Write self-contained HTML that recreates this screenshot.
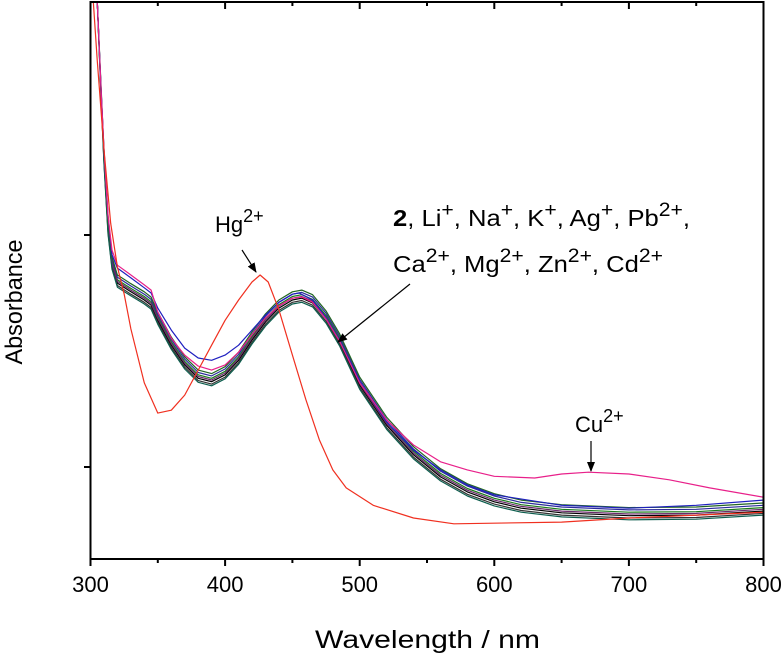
<!DOCTYPE html>
<html><head><meta charset="utf-8"><style>
body{margin:0;background:#fff;}
svg text{font-family:"Liberation Sans",sans-serif;}
</style></head><body>
<svg id="c" width="784" height="666" viewBox="0 0 784 666" xmlns="http://www.w3.org/2000/svg">
<defs><marker id="ah" markerWidth="10" markerHeight="8" refX="9" refY="4" orient="auto" markerUnits="userSpaceOnUse"><path d="M0,0 L10,4 L0,8 z" fill="#000"/></marker></defs>
<g id="plot"></g>
<rect x="90.5" y="2" width="673" height="557" fill="none" stroke="#000" stroke-width="2"/>
<g id="ticks"></g>
<text x="22" y="302" font-size="24" text-anchor="middle" textLength="125" lengthAdjust="spacingAndGlyphs" transform="rotate(-90 22 302)">Absorbance</text>
<text x="315" y="648" font-size="25" textLength="225" lengthAdjust="spacingAndGlyphs">Wavelength / nm</text>
<g>
<text x="215" y="232" font-size="22">Hg<tspan dy="-10" font-size="18">2+</tspan></text>
<line x1="242" y1="250" x2="256" y2="272" stroke="#000" stroke-width="1.2" marker-end="url(#ah)"/>
</g>
<g>
<text x="393" y="226" font-size="23" textLength="297" lengthAdjust="spacingAndGlyphs"><tspan font-weight="bold">2</tspan>, Li<tspan dy="-10" font-size="19">+</tspan><tspan dy="10">, Na</tspan><tspan dy="-10" font-size="19">+</tspan><tspan dy="10">, K</tspan><tspan dy="-10" font-size="19">+</tspan><tspan dy="10">, Ag</tspan><tspan dy="-10" font-size="19">+</tspan><tspan dy="10">, Pb</tspan><tspan dy="-10" font-size="19">2+</tspan><tspan dy="10">,</tspan></text>
<text x="393" y="272" font-size="23" textLength="270" lengthAdjust="spacingAndGlyphs">Ca<tspan dy="-10" font-size="19">2+</tspan><tspan dy="10">, Mg</tspan><tspan dy="-10" font-size="19">2+</tspan><tspan dy="10">, Zn</tspan><tspan dy="-10" font-size="19">2+</tspan><tspan dy="10">, Cd</tspan><tspan dy="-10" font-size="19">2+</tspan></text>
<line x1="410" y1="284" x2="338" y2="342" stroke="#000" stroke-width="1.2" marker-end="url(#ah)"/>
</g>
<g>
<text x="575" y="432" font-size="22">Cu<tspan dy="-10" font-size="18">2+</tspan></text>
<line x1="591" y1="441" x2="591" y2="471" stroke="#000" stroke-width="1.2" marker-end="url(#ah)"/>
</g>
</svg>
<script>
const xTicks=[300,400,500,600,700,800];
const xMinor=[350,450,550,650,750];
const yTicks=[0.2,0.6];
const lamMain=[305,308,310,313,316,320,330,340,345,350,360,370,380,390,400,410,420,430,440,450,457,465,475,485,500,520,540,560,580,600,620,650,700,750,800];
const absMain=[1.005,0.833,0.729,0.609,0.548,0.517,0.502,0.488,0.479,0.453,0.410,0.376,0.353,0.347,0.359,0.384,0.419,0.450,0.474,0.488,0.491,0.483,0.455,0.416,0.341,0.272,0.221,0.183,0.157,0.140,0.129,0.121,0.116,0.117,0.124];
const groupOffsets=[0,0.006,-0.004,0.010,0.003,-0.007,0.014];
const groupColors=["#000","#1a7a1a","#333","#2b2b9b","#6b2a6b","#0d5e4e","#226622"];
const lamHg=[302,305,310,315,320,325,330,340,350,360,370,380,390,400,410,420,426,432,440,450,460,470,480,490,510,540,570,650,700,800];
const absHg=[1.005,0.902,0.747,0.620,0.545,0.498,0.438,0.345,0.293,0.298,0.324,0.367,0.410,0.453,0.488,0.519,0.531,0.519,0.471,0.393,0.316,0.247,0.195,0.164,0.134,0.112,0.102,0.105,0.112,0.122];
const lamCu=[305,308,310,313,316,320,330,340,345,350,360,370,380,390,400,410,420,430,440,450,457,465,475,485,500,520,540,560,580,600,630,650,670,700,730,760,800];
const absCu=[1.005,0.841,0.747,0.634,0.574,0.548,0.531,0.514,0.505,0.467,0.422,0.393,0.374,0.367,0.376,0.398,0.428,0.457,0.478,0.491,0.493,0.484,0.455,0.417,0.345,0.281,0.238,0.209,0.195,0.184,0.181,0.188,0.191,0.188,0.178,0.164,0.148];
const lamBlue=[305,308,310,313,316,320,330,340,345,350,360,370,380,390,400,410,420,430,440,450,455,465,475,485,500,520,540,560,580,600,650,700,750,800];
const absBlue=[1.005,0.841,0.747,0.634,0.566,0.543,0.526,0.509,0.500,0.474,0.436,0.405,0.388,0.384,0.393,0.410,0.436,0.462,0.484,0.498,0.500,0.488,0.457,0.419,0.347,0.278,0.229,0.195,0.169,0.152,0.134,0.129,0.134,0.143];

const X=v=>90.5+(v-300)*673/500;
const Y=a=>467-(a-0.2)*580;
const NS="http://www.w3.org/2000/svg";
const plot=document.getElementById('plot');
const cp=document.createElementNS(NS,'clipPath');cp.setAttribute('id','clip');
const cr=document.createElementNS(NS,'rect');cr.setAttribute('x',91);cr.setAttribute('y',3);cr.setAttribute('width',672);cr.setAttribute('height',555);
cp.appendChild(cr);document.querySelector('defs').appendChild(cp);
plot.setAttribute('clip-path','url(#clip)');
function line(lams,vals,color,name){
  const p=document.createElementNS(NS,'path');
  p.setAttribute('d',lams.map((l,i)=>(i?'L':'M')+X(l).toFixed(1)+','+Y(vals[i]).toFixed(1)).join(''));
  p.setAttribute('fill','none');p.setAttribute('stroke',color);p.setAttribute('stroke-width','1.2');p.setAttribute('stroke-linejoin','round');
  
  
  plot.appendChild(p);
}
groupOffsets.forEach((o,k)=>line(lamMain,absMain.map(v=>v+o*(v<0.9?1:0)),groupColors[k],'series-group-'+k));
line(lamBlue,absBlue,'#1f1fc0','series-blue');
line(lamCu,absCu,'#e8208a','series-cu');
line(lamHg,absHg,'#f03020','series-hg');
const tg=document.getElementById('ticks');
function tl(x1,y1,x2,y2,name){const l=document.createElementNS(NS,'line');l.setAttribute('x1',x1);l.setAttribute('y1',y1);l.setAttribute('x2',x2);l.setAttribute('y2',y2);l.setAttribute('stroke','#000');l.setAttribute('stroke-width','2');


tg.appendChild(l);}
xTicks.forEach(v=>{tl(X(v),559,X(v),566,'x-tick');tl(X(v),2,X(v),9,'x-tick-top');
const t=document.createElementNS(NS,'text');t.setAttribute('x',X(v));t.setAttribute('y',592);t.setAttribute('font-size','22');t.setAttribute('text-anchor','middle');t.textContent=v;


tg.appendChild(t);});
xMinor.forEach(v=>{tl(X(v),559,X(v),563,'x-minor-tick');tl(X(v),2,X(v),6,'x-minor-tick-top');});
yTicks.forEach(v=>{tl(84,Y(v),90.5,Y(v),'y-tick');});
</script>
</body></html>
